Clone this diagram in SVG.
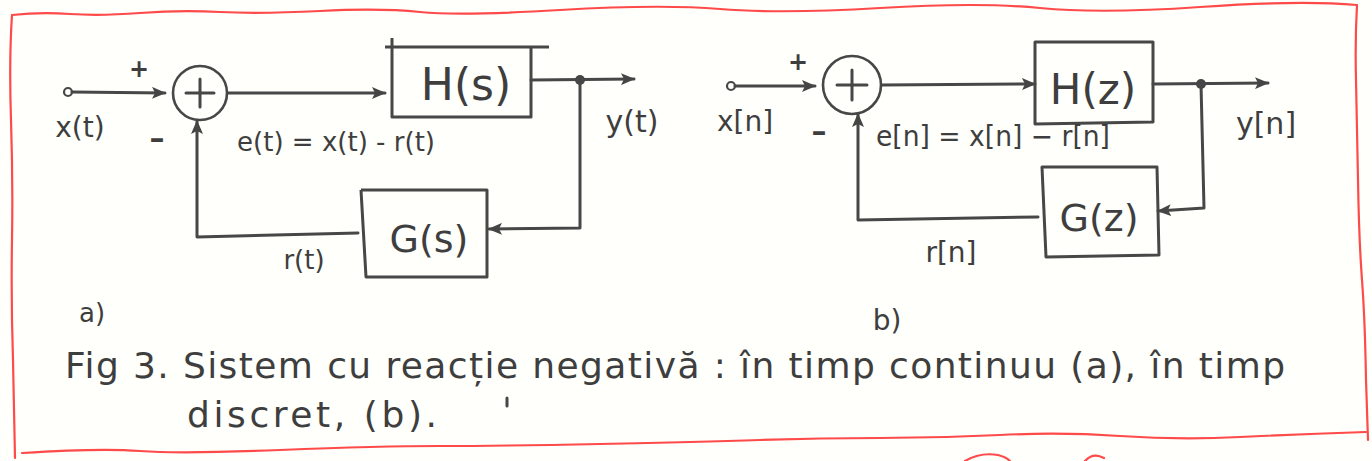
<svg xmlns="http://www.w3.org/2000/svg" width="1372" height="461" viewBox="0 0 1372 461">
  <defs>
    <marker id="arrow" viewBox="0 0 14 12" refX="13" refY="6" markerWidth="14" markerHeight="12" markerUnits="userSpaceOnUse" orient="auto">
      <path d="M0,0 L14,6 L0,12 L3,6 Z" fill="#454545"/>
    </marker>
    <style>
      .frame { fill: none; stroke: #ff4a4a; stroke-width: 2.2; stroke-linejoin: round; stroke-linecap: round; }
      .wire { fill: none; stroke: #474747; stroke-width: 3; stroke-linejoin: round; stroke-linecap: round; }
      .box { fill: none; stroke: #474747; stroke-width: 3; stroke-linejoin: round; }
      .sum { fill: none; stroke: #474747; stroke-width: 2.6; }
      .dot { fill: #474747; }
      .lbl { font-family: "DejaVu Sans", "Liberation Sans", sans-serif; fill: #3e3e3e; }
      .sign { font-family: "DejaVu Sans", "Liberation Sans", sans-serif; fill: #3e3e3e; font-weight: bold; }
      .cap { font-family: "DejaVu Sans", "Liberation Sans", sans-serif; fill: #3e3e3e; font-size: 36px; }
    </style>
  </defs>

  <rect width="1372" height="461" fill="#fffffb"/>

  <!-- page frame -->
  <path class="frame" d="M12,15 Q40,12 70,14 T140,13 T220,12 T320,11 T420,12 T560,10 T720,9 T880,8 T1040,8 T1200,7 T1357,5"/>
  <path class="frame" d="M1357,5 Q1355,40 1356,80 T1358,180 T1362,280 T1366,380 L1368,440"/>
  <path class="frame" d="M1366,432 Q1300,434 1240,437 T1120,436 T1000,435 T880,438 T760,440 T600,444 T440,446 T280,450 T140,451 T22,453"/>
  <path class="frame" d="M12,15 Q9,60 11,120 T12,240 T13,360 L15,458"/>
  <path class="frame" d="M965,461 Q980,452 998,455 Q1006,457 1010,461"/>
  <path class="frame" d="M1085,461 Q1093,452 1104,458"/>

  <!-- connectors -->
  <g id="connectors">
    <!-- continuous-time loop -->
    <circle cx="68" cy="92" r="4" fill="#fffffb" stroke="#474747" stroke-width="2.2"/>
    <path class="wire" d="M72,92 L165,93" marker-end="url(#arrow)"/>
    <path class="wire" d="M228,93 L385,93" marker-end="url(#arrow)"/>
    <path class="wire" d="M531,80 L634,79" marker-end="url(#arrow)"/>
    <path class="wire" d="M580,80 L580,228 L489,229" marker-end="url(#arrow)"/>
    <path class="wire" d="M358,233 L197,237 L197,121" marker-end="url(#arrow)"/>
    <circle class="dot" cx="580" cy="80" r="5"/>

    <!-- discrete-time loop -->
    <circle cx="731" cy="86" r="4" fill="#fffffb" stroke="#474747" stroke-width="2.2"/>
    <path class="wire" d="M735,86 L815,86" marker-end="url(#arrow)"/>
    <path class="wire" d="M882,85 L1035,84" marker-end="url(#arrow)"/>
    <path class="wire" d="M1153,84 L1268,83" marker-end="url(#arrow)"/>
    <path class="wire" d="M1201,84 L1204,208 L1158,211" marker-end="url(#arrow)"/>
    <path class="wire" d="M1038,217 L858,220 L858,114" marker-end="url(#arrow)"/>
    <circle class="dot" cx="1201" cy="84" r="5"/>
  </g>

  <!-- continuous-time system (a) -->
  <g id="sum-a">
    <circle class="sum" cx="200" cy="93" r="27"/>
    <path class="wire" d="M186,93 L214,93 M200,79 L200,107"/>
  </g>
  <g id="H-s">
    <path class="box" d="M392,38 L392,117 L531,117 L531,47 M385,47 L549,47"/>
    <text class="lbl" x="466" y="100" font-size="44" text-anchor="middle">H(s)</text>
  </g>
  <g id="G-s">
    <path class="box" d="M361,190 L487,190 L487,277 L366,277 L361,190"/>
    <text class="lbl" x="429" y="252" font-size="38" text-anchor="middle">G(s)</text>
  </g>
  <g id="labels-a">
    <text class="sign" x="139" y="77" font-size="24" text-anchor="middle">+</text>
    <text class="sign" x="157" y="148" font-size="30" text-anchor="middle">–</text>
    <text class="lbl" x="80" y="137" font-size="28" text-anchor="middle">x(t)</text>
    <text class="lbl" x="632" y="132" font-size="30" text-anchor="middle">y(t)</text>
    <text class="lbl" x="237" y="151" font-size="26" textLength="198" lengthAdjust="spacingAndGlyphs">e(t) = x(t) - r(t)</text>
    <text class="lbl" x="304" y="269" font-size="26" text-anchor="middle">r(t)</text>
    <text class="lbl" x="92" y="322" font-size="26" text-anchor="middle">a)</text>
  </g>

  <!-- discrete-time system (b) -->
  <g id="sum-b">
    <circle class="sum" cx="852" cy="85" r="29"/>
    <path class="wire" d="M837,85 L867,85 M852,70 L852,100"/>
  </g>
  <g id="H-z">
    <path class="box" d="M1035,42 L1153,42 L1153,122 L1035,124 Z"/>
    <text class="lbl" x="1093" y="104" font-size="42" text-anchor="middle">H(z)</text>
  </g>
  <g id="G-z">
    <path class="box" d="M1042,167 L1157,167 L1159,255 L1046,257 Z"/>
    <text class="lbl" x="1099" y="231" font-size="38" text-anchor="middle">G(z)</text>
  </g>
  <g id="labels-b">
    <text class="sign" x="798" y="70" font-size="24" text-anchor="middle">+</text>
    <text class="sign" x="819" y="141" font-size="30" text-anchor="middle">–</text>
    <text class="lbl" x="745" y="131" font-size="28" text-anchor="middle">x[n]</text>
    <text class="lbl" x="1266" y="134" font-size="30" text-anchor="middle">y[n]</text>
    <text class="lbl" x="876" y="146" font-size="28" textLength="234" lengthAdjust="spacingAndGlyphs">e[n] = x[n] − r[n]</text>
    <text class="lbl" x="951" y="262" font-size="28" text-anchor="middle">r[n]</text>
    <text class="lbl" x="887" y="330" font-size="28" text-anchor="middle">b)</text>
  </g>

  <!-- caption -->
  <g id="caption">
    <text class="cap" x="65" y="378" textLength="1220" lengthAdjust="spacing">Fig 3. Sistem cu reacție negativă : în timp continuu (a), în timp</text>
    <text class="cap" x="187" y="427" textLength="250" lengthAdjust="spacing">discret, (b).</text>
    <path class="wire" d="M507,398 L507,406" stroke-width="2"/>
  </g>
</svg>
